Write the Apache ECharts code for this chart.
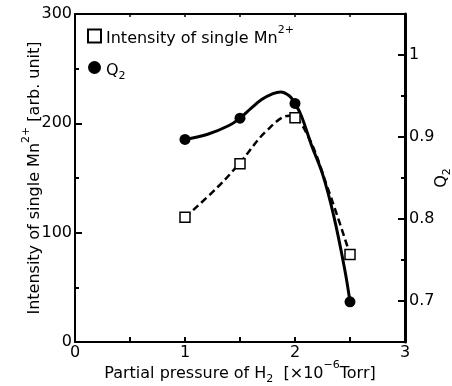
<!DOCTYPE html>
<html>
<head>
<meta charset="utf-8">
<script src="https://cdn.jsdelivr.net/npm/echarts@6/dist/echarts.min.js"></script>
<style>html,body{margin:0;padding:0;background:#fff}#c{width:452px;height:386px}</style>
</head>
<body>
<div id="c"></div>
<script>
// Measured points
const pressure = [1, 1.5, 2, 2.5];
const intensity = [114, 163, 205, 80];
const q2 = [0.897, 0.923, 0.941, 0.699];

// Fitted curves as drawn in the figure
const intensityCurveX = [1, 1.3, 1.5, 1.74, 1.95, 2.1, 2.3, 2.5];
const intensityCurveY = [114, 142, 164, 193, 207, 192, 140, 80];
const q2CurveX = [1, 1.2, 1.4, 1.5, 1.6, 1.7, 1.8, 1.87, 1.95, 2.0, 2.06, 2.15, 2.25, 2.35, 2.45, 2.5];
const q2CurveY = [0.897, 0.903, 0.914, 0.923, 0.935, 0.946, 0.953, 0.955, 0.950, 0.941, 0.925, 0.890, 0.855, 0.805, 0.740, 0.699];

// Ticks
const xTickLabels = [0, 1, 2, 3];
const xTicks = [0, 0.5, 1, 1.5, 2, 2.5, 3];
const leftTickLabels = [0, 100, 200, 300];
const leftMinorTicks = [50, 150, 250];
const rightTickLabels = [0.7, 0.8, 0.9, 1];
const rightMinorTicks = [0.75, 0.85, 0.95];

const FONT = '"DejaVu Sans", "Liberation Sans", Arial, sans-serif';
const rich = {
  t: {fontSize: 16, fontFamily: FONT, color: '#000', lineHeight: 22, verticalAlign: 'bottom'},
  sup: {fontSize: 11, fontFamily: FONT, color: '#000', lineHeight: 22, verticalAlign: 'top'},
  sub: {fontSize: 11, fontFamily: FONT, color: '#000', lineHeight: 22, verticalAlign: 'bottom', padding: [0, 0, -3, 0]}
};
const axisLineStyle = {color: '#000', width: 2};
const labelStyle = {color: '#000', fontSize: 16, fontFamily: FONT};

const chart = echarts.init(document.getElementById('c'), null, {renderer: 'canvas'});
chart.setOption({
  animation: false,
  backgroundColor: '#fff',
  grid: {left: 75, right: 47, top: 14, bottom: 44, containLabel: false, outerBoundsMode: 'none'},
  legend: {
    orient: 'vertical', left: 82, top: 20, itemGap: 14, itemWidth: 13, itemHeight: 13,
    data: [
      {name: 'Intensity of single Mn2+', icon: 'rect'},
      {name: 'Q2', icon: 'circle'}
    ],
    formatter: function (n) {
      return n === 'Q2' ? '{t|Q}{sub|2}' : '{t|Intensity of single Mn}{sup|2+}';
    },
    textStyle: {rich: rich}
  },
  xAxis: [{
    type: 'value', position: 'bottom', min: 0, max: 3, interval: 0.5,
    name: '{t|Partial pressure of H}{sub|2}{t|  [×10}{sup|−6}{t|Torr]}',
    nameLocation: 'middle', nameGap: 18, nameMoveOverlap: false, nameTextStyle: {rich: rich},
    axisLine: {show: true, onZero: false, lineStyle: axisLineStyle},
    axisTick: {inside: true, length: 5, lineStyle: {color: '#000', width: 2}, customValues: xTicks},
    axisLabel: Object.assign({margin: 3, customValues: xTickLabels}, labelStyle),
    splitLine: {show: false}
  }, {
    type: 'value', position: 'top', min: 0, max: 3, interval: 0.5,
    axisLine: {show: true, onZero: false, lineStyle: axisLineStyle},
    axisTick: {inside: true, length: 3, lineStyle: {color: '#000', width: 1.5}},
    axisLabel: {show: false}, splitLine: {show: false}
  }],
  yAxis: [{
    type: 'value', position: 'left', min: 0, max: 300, interval: 50,
    name: '{t|Intensity of single Mn}{sup|2+}{t| [arb. unit]}',
    nameLocation: 'middle', nameRotate: 90, nameGap: 32, nameMoveOverlap: false, nameTextStyle: {rich: rich},
    axisLine: {show: true, onZero: false, lineStyle: axisLineStyle},
    axisTick: {inside: true, length: 7, lineStyle: {color: '#000', width: 2}, customValues: leftTickLabels},
    axisLabel: Object.assign({margin: 3, customValues: leftTickLabels}, labelStyle),
    splitLine: {show: false}
  }, {
    type: 'value', position: 'right', min: 0.65, max: 1.05, interval: 0.05,
    name: '{t|Q}{sub|2}',
    nameLocation: 'middle', nameRotate: 90, nameGap: 23, nameMoveOverlap: false, nameTextStyle: {rich: rich},
    axisLine: {show: true, onZero: false, lineStyle: {color: '#000', width: 3}},
    axisTick: {inside: true, length: 7, lineStyle: {color: '#000', width: 2}, customValues: rightTickLabels},
    axisLabel: Object.assign({margin: 4, customValues: rightTickLabels}, labelStyle),
    splitLine: {show: false}
  }, {
    type: 'value', position: 'left', min: 0, max: 300, interval: 50,
    axisLine: {show: false, onZero: false},
    axisTick: {inside: true, length: 4, lineStyle: {color: '#000', width: 2}, customValues: leftMinorTicks},
    axisLabel: {show: false}, splitLine: {show: false}
  }, {
    type: 'value', position: 'right', min: 0.65, max: 1.05, interval: 0.05,
    axisLine: {show: false, onZero: false},
    axisTick: {inside: true, length: 4, lineStyle: {color: '#000', width: 2}, customValues: rightMinorTicks},
    axisLabel: {show: false}, splitLine: {show: false}
  }],
  series: [{
    name: 'intensityCurve', type: 'line', xAxisIndex: 0, yAxisIndex: 0, smooth: 0.4,
    symbol: 'none', lineStyle: {color: '#000', width: 2.5, type: [7, 4]},
    data: intensityCurveX.map((x, i) => [x, intensityCurveY[i]]), z: 2
  }, {
    name: 'q2Curve', type: 'line', xAxisIndex: 0, yAxisIndex: 1, smooth: 0.4,
    symbol: 'none', lineStyle: {color: '#000', width: 3},
    data: q2CurveX.map((x, i) => [x, q2CurveY[i]]), z: 2
  }, {
    name: 'Intensity of single Mn2+', type: 'scatter', xAxisIndex: 0, yAxisIndex: 0,
    symbol: 'rect', symbolSize: 10,
    itemStyle: {color: '#fff', borderColor: '#000', borderWidth: 1.5, opacity: 1},
    data: pressure.map((x, i) => [x, intensity[i]]), z: 4
  }, {
    name: 'Q2', type: 'scatter', xAxisIndex: 0, yAxisIndex: 1,
    symbol: 'circle', symbolSize: 11,
    itemStyle: {color: '#000', opacity: 1},
    data: pressure.map((x, i) => [x, q2[i]]), z: 3
  }]
});
</script>
</body>
</html>
